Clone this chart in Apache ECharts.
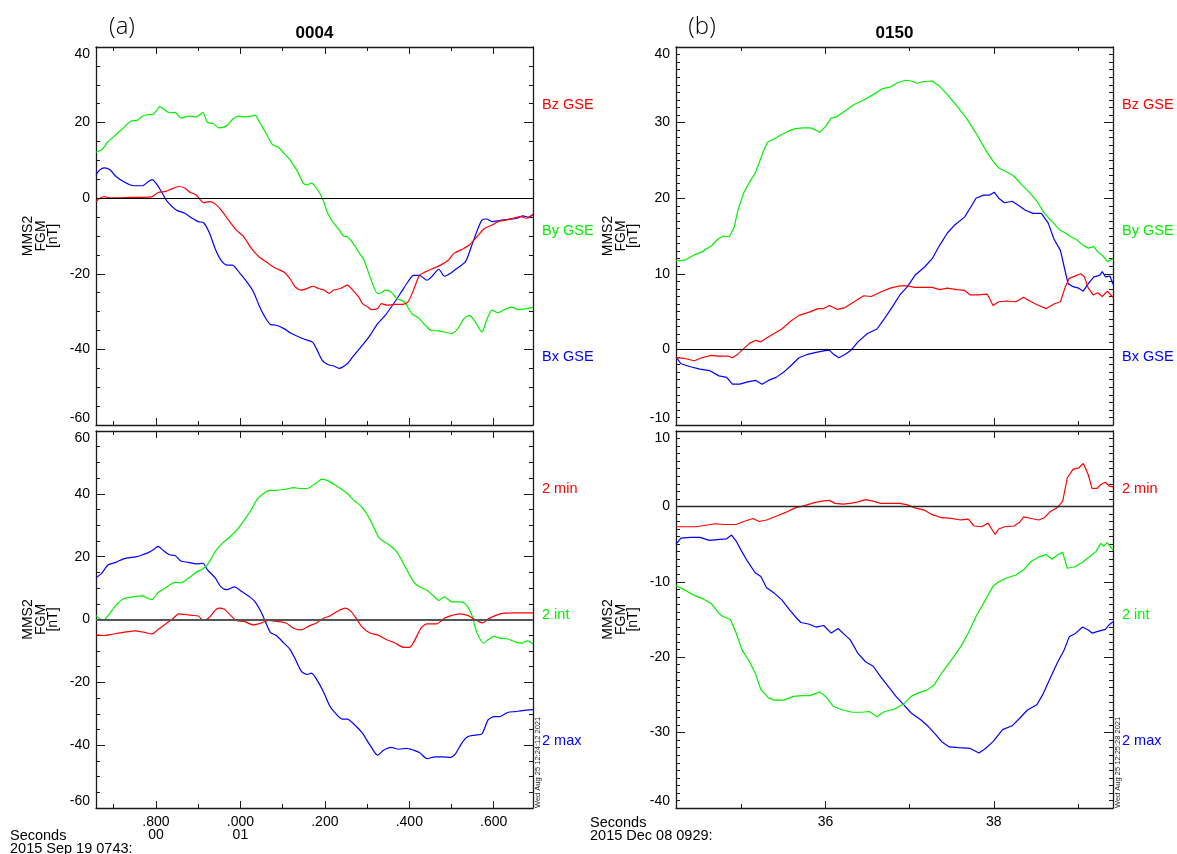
<!DOCTYPE html>
<html>
<head>
<meta charset="utf-8">
<script src="https://cdn.jsdelivr.net/npm/echarts@6.0.0/dist/echarts.min.js"></script>
<style>
  html, body { margin: 0; padding: 0; background: #ffffff; }
  #chart { width: 1177px; height: 854px; }
</style>
</head>
<body>
<div id="chart"></div>
<script>
// ---- MMS2 FGM, 2015 Sep 19 07:43 (interval 0004): time [s after 07:43:00], field [nT]
const bxA = [[0.658,6.2],[0.667,7.5],[0.678,8],[0.691,7.5],[0.705,5.8],[0.723,4.4],[0.746,3.3],[0.768,3.3],[0.782,4.4],[0.791,4.9],[0.803,3.5],[0.814,1.5],[0.827,-0.9],[0.848,-3.1],[0.868,-4],[0.886,-5.3],[0.900,-6.2],[0.913,-6.5],[0.927,-9.3],[0.940,-13.3],[0.954,-16.4],[0.968,-17.7],[0.981,-17.7],[0.999,-19.9],[1.017,-22.4],[1.031,-24.8],[1.044,-28.3],[1.058,-31.4],[1.071,-33.4],[1.085,-33.6],[1.103,-34.5],[1.121,-35.8],[1.149,-37.2],[1.171,-38.1],[1.180,-39.8],[1.194,-42.9],[1.207,-44],[1.221,-44.4],[1.234,-45],[1.253,-43.8],[1.266,-42],[1.289,-38.9],[1.307,-36.3],[1.325,-33.2],[1.343,-31],[1.366,-27.4],[1.384,-24.3],[1.397,-22.1],[1.410,-20.4],[1.424,-20.4],[1.442,-21.7],[1.456,-20.4],[1.470,-18.8],[1.483,-20.6],[1.497,-19.9],[1.510,-18.8],[1.533,-16.8],[1.547,-12.8],[1.560,-8.8],[1.572,-5.8],[1.583,-5.5],[1.596,-6.2],[1.614,-5.9],[1.637,-5.6],[1.655,-5.3],[1.669,-4.7],[1.682,-5],[1.693,-4.2]];
const byA = [[0.658,12.2],[0.671,12.8],[0.687,15],[0.705,16.8],[0.723,18.6],[0.741,20.4],[0.755,20.6],[0.768,21.7],[0.782,22.1],[0.791,22.1],[0.800,23],[0.809,24.2],[0.818,23.6],[0.832,22.6],[0.845,22.7],[0.859,21.2],[0.877,21.7],[0.895,21.5],[0.904,22.1],[0.911,22.7],[0.922,20.1],[0.936,19.7],[0.949,18.6],[0.968,19.2],[0.981,20.8],[0.995,21.7],[1.013,21.5],[1.035,21.9],[1.044,20.4],[1.058,17.7],[1.076,14.2],[1.090,13.5],[1.103,11.9],[1.117,10.2],[1.135,7.1],[1.149,4],[1.158,3.5],[1.168,4],[1.180,2.7],[1.194,0],[1.207,-4],[1.221,-6.6],[1.234,-8.4],[1.244,-10],[1.253,-10.2],[1.264,-11.5],[1.280,-14.2],[1.293,-16.4],[1.307,-20.8],[1.325,-25.2],[1.334,-25],[1.343,-24.3],[1.357,-24.8],[1.370,-26.5],[1.388,-27.4],[1.406,-30.5],[1.424,-31.9],[1.438,-33.6],[1.452,-35],[1.470,-35.1],[1.483,-35.4],[1.500,-35.8],[1.515,-34.5],[1.529,-31.9],[1.542,-31],[1.556,-32.7],[1.572,-35.4],[1.583,-32.3],[1.596,-29.6],[1.610,-30.3],[1.624,-29.5],[1.642,-28.8],[1.660,-29.5],[1.678,-29.2],[1.693,-28.9]];
const bzA = [[0.658,-0.9],[0.667,0],[0.678,0.4],[0.691,0.1],[0.714,0.1],[0.741,0.2],[0.768,0.2],[0.791,0.4],[0.805,1.5],[0.823,1.8],[0.836,2.4],[0.854,3.1],[0.868,2.7],[0.882,1.5],[0.895,0.9],[0.904,-0.3],[0.913,-1.2],[0.927,-0.9],[0.940,-1.5],[0.954,-3.1],[0.972,-5.8],[0.990,-8.4],[1.008,-10.2],[1.026,-13.3],[1.044,-15.5],[1.067,-17.3],[1.085,-18.6],[1.103,-19.5],[1.117,-21.2],[1.130,-23.5],[1.144,-24.3],[1.158,-23.9],[1.171,-23.3],[1.185,-23.9],[1.198,-24.3],[1.210,-25.2],[1.221,-24.3],[1.237,-23.9],[1.253,-23.0],[1.266,-24.3],[1.280,-26.1],[1.289,-27.9],[1.302,-28.8],[1.311,-29.5],[1.325,-29.2],[1.334,-27.9],[1.348,-28.3],[1.366,-28.1],[1.384,-28.1],[1.397,-27.4],[1.410,-24.3],[1.424,-20.4],[1.438,-19.5],[1.456,-18.6],[1.474,-17.7],[1.492,-16.4],[1.506,-14.6],[1.529,-13.3],[1.542,-12.4],[1.560,-10.2],[1.578,-8.0],[1.596,-7.1],[1.610,-6.2],[1.628,-5.8],[1.646,-5.3],[1.664,-4.9],[1.678,-5.3],[1.693,-4.4]];

// minimum-variance frame components, same interval
const maxA = [[0.658,13.3],[0.671,14.7],[0.687,17.4],[0.705,18.2],[0.723,19.3],[0.741,19.8],[0.755,20],[0.768,20.6],[0.782,21.3],[0.794,22.2],[0.805,23.3],[0.818,21.9],[0.832,20.6],[0.845,20.4],[0.859,18.6],[0.877,18.2],[0.895,17.7],[0.911,17.9],[0.922,15.8],[0.940,13.3],[0.954,10.4],[0.968,9.5],[0.986,10.4],[1.004,8.8],[1.022,7.2],[1.035,5.6],[1.049,2.4],[1.058,-0.3],[1.071,-4.1],[1.085,-5.1],[1.103,-7.5],[1.117,-9.4],[1.130,-12.6],[1.144,-16.4],[1.158,-17.5],[1.168,-17.1],[1.185,-20.1],[1.198,-23.4],[1.212,-27.6],[1.225,-29.8],[1.241,-31.7],[1.253,-31.7],[1.271,-33.6],[1.289,-36.2],[1.307,-40],[1.325,-43.2],[1.339,-41.6],[1.357,-40.7],[1.375,-41.3],[1.393,-41],[1.410,-41.6],[1.424,-42.3],[1.442,-44.3],[1.461,-43.7],[1.479,-43.7],[1.497,-43.9],[1.510,-42.6],[1.524,-39.4],[1.538,-37.3],[1.556,-36.8],[1.572,-36.4],[1.587,-31.9],[1.601,-30.9],[1.614,-30.9],[1.633,-29.6],[1.651,-29.3],[1.669,-29],[1.693,-28.7]];
const intA = [[0.658,1.3],[0.667,0.2],[0.676,-0.1],[0.687,1.3],[0.705,4.5],[0.723,6.6],[0.746,7.2],[0.768,7.5],[0.782,6.6],[0.791,6.4],[0.805,8.6],[0.823,10.1],[0.845,11.8],[0.859,11.7],[0.877,13.1],[0.895,15],[0.913,16.3],[0.927,18.4],[0.940,21.6],[0.958,24.3],[0.977,26.5],[0.995,29.1],[1.013,32.4],[1.026,35],[1.040,38.3],[1.058,40.4],[1.071,41.1],[1.085,41.1],[1.108,41.5],[1.126,42],[1.139,41.7],[1.158,41.7],[1.176,43.1],[1.194,44.7],[1.207,44.2],[1.221,43.1],[1.234,42],[1.253,40.1],[1.271,37.7],[1.289,35.6],[1.307,31.8],[1.329,25.9],[1.352,23.8],[1.370,21.6],[1.388,17.4],[1.410,12],[1.424,10.4],[1.442,9.3],[1.456,7.7],[1.470,6.1],[1.483,7.2],[1.501,5.6],[1.520,5.6],[1.533,5],[1.547,1.8],[1.560,-4.1],[1.576,-7.5],[1.587,-6.4],[1.601,-5.4],[1.614,-5.9],[1.633,-6.2],[1.651,-7.1],[1.666,-7.5],[1.680,-6.8],[1.693,-7.8]];
const minA = [[0.658,-4.9],[0.678,-5.1],[0.696,-4.7],[0.723,-4.1],[0.750,-3.6],[0.773,-4.1],[0.791,-4.6],[0.805,-3.2],[0.823,-1.4],[0.841,0.4],[0.854,1.8],[0.868,1.6],[0.886,1.3],[0.900,1.1],[0.913,-0.3],[0.927,0.7],[0.940,2.9],[0.949,3.6],[0.963,3.2],[0.977,1.3],[0.990,-0.3],[1.008,-0.6],[1.031,-1.7],[1.049,-1.1],[1.067,-0.3],[1.085,-0.6],[1.108,-1.1],[1.126,-2.8],[1.144,-3.3],[1.162,-2.1],[1.180,-1.1],[1.198,0.5],[1.212,1.1],[1.230,2.6],[1.248,3.6],[1.262,2.6],[1.275,0.2],[1.289,-2.5],[1.307,-4.3],[1.325,-4.9],[1.343,-6.2],[1.366,-7.5],[1.388,-8.9],[1.400,-8.9],[1.410,-7.3],[1.429,-2.5],[1.442,-1.4],[1.465,-1.4],[1.483,0.4],[1.501,1.3],[1.520,1.8],[1.538,1.3],[1.556,0],[1.574,-1.1],[1.587,0.2],[1.605,1.3],[1.624,2],[1.646,2.1],[1.669,2.1],[1.693,2.1]];

// ---- MMS2 FGM, 2015 Dec 08 09:29 (interval 0150): time [s after 09:29:00], field [nT]
const bxB = [[34.222,-1],[34.281,-1.9],[34.394,-2.3],[34.507,-2.6],[34.620,-2.8],[34.733,-3.5],[34.824,-3.7],[34.892,-4.6],[34.982,-4.6],[35.073,-4.3],[35.172,-4.1],[35.245,-4.6],[35.322,-4.1],[35.412,-3.7],[35.503,-3],[35.593,-2.1],[35.684,-1.1],[35.774,-0.7],[35.887,-0.4],[35.978,-0.2],[36.045,-0.1],[36.090,-0.6],[36.158,-1.1],[36.226,-0.7],[36.303,-0.1],[36.385,1],[36.498,2.1],[36.611,2.7],[36.702,4.1],[36.792,5.6],[36.883,7.2],[36.973,8.3],[37.063,9.8],[37.177,10.9],[37.267,12],[37.358,13.8],[37.448,15.4],[37.539,16.5],[37.652,17.5],[37.720,18.7],[37.788,20],[37.878,20.4],[37.946,20.4],[38.005,20.8],[38.059,20],[38.127,19.4],[38.218,19.6],[38.286,19.1],[38.376,18.4],[38.467,18],[38.566,18],[38.647,16.7],[38.715,14.6],[38.792,13.1],[38.837,10.9],[38.883,8.7],[38.942,8.3],[39.009,8.1],[39.064,7.7],[39.123,8.7],[39.190,9.6],[39.258,9.8],[39.290,10.3],[39.326,9.6],[39.381,9.7],[39.417,8.6]];
const byB = [[34.222,11.7],[34.326,11.8],[34.439,12.5],[34.530,12.9],[34.643,13.7],[34.711,14.5],[34.779,15],[34.856,14.9],[34.914,16.2],[34.960,18.5],[35.027,20.7],[35.095,22.1],[35.163,23.3],[35.208,24.6],[35.254,26],[35.308,27.4],[35.367,27.7],[35.457,28.3],[35.548,28.8],[35.638,29.2],[35.729,29.3],[35.819,29.3],[35.887,29],[35.933,28.7],[36.000,29.5],[36.068,30.6],[36.136,30.8],[36.226,31.5],[36.340,32.4],[36.453,33],[36.566,33.7],[36.679,34.5],[36.769,34.7],[36.860,35.3],[36.950,35.6],[37.018,35.5],[37.086,35.2],[37.154,35.4],[37.267,35.5],[37.358,34.8],[37.448,33.7],[37.561,32.2],[37.674,30.6],[37.788,28.6],[37.901,26.4],[37.991,24.9],[38.059,24],[38.150,23.5],[38.240,22.9],[38.331,21.8],[38.421,20.8],[38.512,19.6],[38.602,18],[38.693,16.9],[38.783,15.8],[38.851,15.4],[38.919,14.9],[38.987,14.5],[39.055,13.8],[39.123,13.4],[39.190,13.6],[39.236,12.9],[39.304,12.3],[39.349,11.6],[39.381,11.8],[39.417,12]];
const bzB = [[34.222,-1.1],[34.326,-1.2],[34.439,-1.5],[34.530,-1.1],[34.643,-0.8],[34.733,-0.9],[34.846,-0.9],[34.892,-1.1],[34.960,-0.6],[35.027,0.1],[35.095,0.8],[35.172,1.2],[35.231,1],[35.299,1.5],[35.389,2.1],[35.480,2.7],[35.593,3.8],[35.684,4.5],[35.797,4.9],[35.910,5.4],[35.978,5.4],[36.045,5.8],[36.136,5.3],[36.226,5.5],[36.340,6.3],[36.453,7.1],[36.543,7],[36.656,7.6],[36.769,8.1],[36.883,8.4],[36.973,8.4],[37.063,8.2],[37.154,8.2],[37.267,8.2],[37.358,7.9],[37.448,8.1],[37.561,7.9],[37.652,7.8],[37.720,7.2],[37.810,7.2],[37.923,7.3],[37.991,5.8],[38.059,6.3],[38.150,6.4],[38.263,6.3],[38.354,6.9],[38.444,6.3],[38.534,5.8],[38.625,5.4],[38.715,6],[38.792,6.3],[38.851,8.3],[38.896,9.4],[38.964,9.7],[39.032,10],[39.077,9.6],[39.123,8.1],[39.182,7.2],[39.236,7.5],[39.290,7],[39.349,7.7],[39.417,6.9]];

const maxB = [[34.222,-5],[34.281,-4.2],[34.394,-4.1],[34.507,-4.1],[34.620,-4.5],[34.711,-4.4],[34.824,-4.3],[34.883,-3.8],[34.937,-4.6],[35.005,-6],[35.073,-7.3],[35.163,-8.8],[35.231,-9.3],[35.299,-10.8],[35.389,-11.5],[35.480,-12.4],[35.570,-13.7],[35.638,-14.6],[35.706,-15.4],[35.797,-15.6],[35.887,-16],[35.978,-15.8],[36.068,-16.8],[36.149,-16.2],[36.226,-17],[36.294,-17.7],[36.385,-19.5],[36.475,-20.6],[36.566,-21.2],[36.656,-22.6],[36.747,-23.9],[36.837,-25.2],[36.928,-26.3],[37.018,-27.4],[37.131,-28.3],[37.222,-29.2],[37.312,-30.3],[37.380,-31.2],[37.471,-31.9],[37.584,-32],[37.720,-32.1],[37.824,-32.7],[37.901,-32.1],[37.991,-31.2],[38.104,-29.6],[38.218,-29.1],[38.308,-28.1],[38.399,-27],[38.512,-26.3],[38.580,-25],[38.670,-22.8],[38.761,-20.6],[38.838,-19],[38.896,-17.3],[38.964,-16.9],[39.055,-16],[39.123,-16.4],[39.168,-16.8],[39.258,-16.5],[39.326,-16.3],[39.371,-15.7],[39.417,-15.3]];
const intB = [[34.222,-10.5],[34.326,-11.1],[34.439,-11.8],[34.552,-12.3],[34.643,-12.9],[34.733,-14.2],[34.779,-14.6],[34.869,-15],[34.937,-16.8],[35.005,-19],[35.095,-20.6],[35.163,-22.1],[35.231,-24.3],[35.322,-25.4],[35.389,-25.7],[35.503,-25.7],[35.616,-25.2],[35.729,-25.1],[35.819,-25.1],[35.933,-24.6],[36.000,-25.2],[36.090,-26.5],[36.204,-27],[36.317,-27.3],[36.430,-27.3],[36.521,-27.2],[36.611,-27.9],[36.702,-27.2],[36.815,-26.9],[36.928,-26.2],[37.018,-25.2],[37.109,-24.7],[37.199,-24.4],[37.290,-23.7],[37.380,-22.1],[37.494,-20.4],[37.607,-18.6],[37.697,-16.8],[37.788,-14.6],[37.901,-12.4],[37.991,-10.6],[38.059,-10],[38.150,-9.5],[38.263,-9.1],[38.354,-8.4],[38.444,-7.3],[38.534,-6.7],[38.625,-6.4],[38.693,-7],[38.761,-6.4],[38.819,-6.1],[38.874,-8.2],[38.964,-8],[39.055,-7.4],[39.145,-6.6],[39.213,-6],[39.272,-4.9],[39.304,-5.3],[39.349,-4.8],[39.417,-5.8]];
const minB = [[34.222,-2.7],[34.349,-2.7],[34.462,-2.7],[34.575,-2.5],[34.688,-2.3],[34.801,-2.4],[34.937,-2.4],[35.027,-2],[35.141,-1.6],[35.208,-2],[35.299,-1.8],[35.412,-1.3],[35.525,-0.8],[35.638,-0.2],[35.751,0.1],[35.865,0.5],[35.955,0.7],[36.045,0.8],[36.113,0.4],[36.204,0.3],[36.294,0.4],[36.385,0.6],[36.475,0.9],[36.566,0.7],[36.656,0.4],[36.769,0.4],[36.883,0.4],[36.973,0.2],[37.063,-0.2],[37.177,-0.5],[37.267,-1.1],[37.380,-1.5],[37.494,-1.6],[37.607,-1.8],[37.697,-1.7],[37.765,-2.6],[37.856,-2.7],[37.933,-2.2],[37.969,-2.9],[38.014,-3.7],[38.059,-3],[38.127,-2.7],[38.240,-2.6],[38.308,-2.1],[38.354,-1.4],[38.444,-1.6],[38.534,-1.8],[38.602,-1.5],[38.670,-0.7],[38.761,-0.1],[38.819,0.7],[38.874,3.8],[38.942,4.9],[39.009,5.1],[39.064,5.7],[39.123,4.2],[39.168,2.4],[39.227,2.4],[39.272,2.9],[39.326,3.2],[39.371,2.7],[39.417,2.6]];

// ---- axis ranges and tick labels
const xRangeA = [0.658, 1.693];
const xRangeB = [34.222, 39.417];
const xTicksA = [0.8, 1.0, 1.2, 1.4, 1.6];
const xTickLabelsA = ['.800\n00', '.000\n01', '.200', '.400', '.600'];
const xTicksB = [36, 38];
const xTickLabelsB = ['36', '38'];
const yRangeTopA = [-60, 40], yRangeBotA = [-60, 60];
const yRangeTopB = [-10, 40], yRangeBotB = [-40, 10];

const titles = ['0004', '0150'];
const panelTags = ['(a)', '(b)'];
const gseNames = ['Bz GSE', 'By GSE', 'Bx GSE'];
const mvaNames = ['2 min', '2 int', '2 max'];
const yName = 'MMS2\nFGM\n[nT]';
const timeUnits = ['Seconds\n2015 Sep 19 0743:', 'Seconds\n2015 Dec 08 0929:'];
const stamps = ['Wed Aug 25 12:24:12 2021', 'Wed Aug 25 12:25:28 2021'];

const FONT = '"Liberation Sans", Arial, Helvetica, sans-serif';
const RED = '#ff0000', GREEN = '#00f000', BLUE = '#0000ff';
const AXIS = '#1a1a1a';

// four plot boxes
const boxes = [
  { left: 96,  top: 47,  width: 437, height: 378 },  // a, GSE
  { left: 96,  top: 431, width: 437, height: 377 },  // a, MVA
  { left: 676, top: 47,  width: 437, height: 378 },  // b, GSE
  { left: 676, top: 431, width: 437, height: 377 }   // b, MVA
];

const panels = [
  { box: boxes[0], xr: xRangeA, xStep: 0.2, xMinor: 2, xSplit: 5, ticks: xTicksA, labels: xTickLabelsA, showX: false,
    yr: yRangeTopA, yStep: 20, yMinor: 4, smooth: 0.25, zero: { color: '#000', width: 1.2 },
    lines: [[bxA, BLUE], [byA, GREEN], [bzA, RED]] },
  { box: boxes[1], xr: xRangeA, xStep: 0.2, xMinor: 2, xSplit: 5, ticks: xTicksA, labels: xTickLabelsA, showX: true,
    yr: yRangeBotA, yStep: 20, yMinor: 4, smooth: 0.25, zero: { color: '#555', width: 2.2 },
    lines: [[maxA, BLUE], [intA, GREEN], [minA, RED]] },
  { box: boxes[2], xr: xRangeB, xStep: 2, xMinor: 2, xSplit: 3, ticks: xTicksB, labels: xTickLabelsB, showX: false,
    yr: yRangeTopB, yStep: 10, yMinor: 10, smooth: false, zero: { color: '#000', width: 1.2 },
    lines: [[bxB, BLUE], [byB, GREEN], [bzB, RED]] },
  { box: boxes[3], xr: xRangeB, xStep: 2, xMinor: 2, xSplit: 3, ticks: xTicksB, labels: xTickLabelsB, showX: true,
    yr: yRangeBotB, yStep: 10, yMinor: 10, smooth: false, zero: { color: '#2a2a2a', width: 1.4 },
    lines: [[maxB, BLUE], [intB, GREEN], [minB, RED]] }
];

const grid = [], xAxis = [], yAxis = [], series = [];

panels.forEach((p, gi) => {
  grid.push({ left: p.box.left, top: p.box.top, width: p.box.width, height: p.box.height, containLabel: false });

  const xBase = {
    type: 'value', gridIndex: gi, min: p.xr[0], max: p.xr[1],
    minInterval: p.xStep, maxInterval: p.xStep, splitNumber: p.xSplit,
    axisLine: { show: true, onZero: false, lineStyle: { color: AXIS, width: 1.3 } },
    axisTick: { show: true, inside: true, length: 7, lineStyle: { color: AXIS, width: 1 } },
    minorTick: { show: true, splitNumber: p.xMinor, length: 4, lineStyle: { color: AXIS, width: 1 } },
    splitLine: { show: false }, minorSplitLine: { show: false }
  };
  const tickLabel = (v) => {
    const i = p.ticks.findIndex(t => Math.abs(t - v) < 1e-6);
    return i >= 0 ? p.labels[i] : '';
  };
  xAxis.push(Object.assign({}, xBase, {
    position: 'bottom',
    axisLabel: p.showX ? {
      show: true, formatter: tickLabel, showMinLabel: false, showMaxLabel: false,
      color: '#000', fontFamily: FONT, fontSize: 14, lineHeight: 13, margin: 8
    } : { show: false }
  }));
  xAxis.push(Object.assign({}, xBase, { position: 'top', axisLabel: { show: false } }));

  const yBase = {
    type: 'value', gridIndex: gi, min: p.yr[0], max: p.yr[1], interval: p.yStep,
    axisLine: { show: true, onZero: false, lineStyle: { color: AXIS, width: 1.3 } },
    axisTick: { show: true, inside: true, length: 9, lineStyle: { color: AXIS, width: 1 } },
    minorTick: { show: true, splitNumber: p.yMinor, length: 4, lineStyle: { color: AXIS, width: 1 } },
    splitLine: { show: false }, minorSplitLine: { show: false }
  };
  yAxis.push(Object.assign({}, yBase, {
    position: 'left',
    axisLabel: {
      show: true, color: '#000', fontFamily: FONT, fontSize: 14, margin: 6,
      verticalAlignMinLabel: 'bottom', verticalAlignMaxLabel: 'top'
    }
  }));
  yAxis.push(Object.assign({}, yBase, { position: 'right', axisLabel: { show: false } }));

  p.lines.forEach(([data, color], k) => {
    const s = {
      type: 'line', data, xAxisIndex: gi * 2, yAxisIndex: gi * 2,
      symbol: 'none', showSymbol: false, clip: true, z: 2 + k, smooth: p.smooth,
      lineStyle: { color, width: 1.2 }, itemStyle: { color }
    };
    if (k === 0) {
      s.markLine = {
        silent: true, symbol: ['none', 'none'], animation: false,
        label: { show: false },
        lineStyle: { color: p.zero.color, width: p.zero.width, type: 'solid' },
        data: [{ yAxis: 0 }]
      };
    }
    series.push(s);
  });
});

// free text: tags, titles, component names, axis names, time units, stamps
const graphic = [];
const txt = (x, y, text, style, rotation) => graphic.push({
  type: 'text', x, y, rotation: rotation || 0, silent: true,
  style: Object.assign({ text, fontFamily: FONT, fill: '#000' }, style)
});
const leftPos = [96, 676], rightPos = [533, 1113];
[0, 1].forEach(c => {
  const cx = (leftPos[c] + rightPos[c]) / 2;
  txt(leftPos[c] + 26, 27, panelTags[c], { fontFamily: '"Open Sans", "Noto Sans", sans-serif', fontWeight: 300, fontSize: 24, align: 'center', verticalAlign: 'middle' });
  txt(cx, 33, titles[c], { fontSize: 17, fontWeight: 'bold', align: 'center', verticalAlign: 'middle' });
  const lx = rightPos[c] + 9;
  [RED, GREEN, BLUE].forEach((col, k) => {
    txt(lx, [105, 231, 357][k], gseNames[k], { fontSize: 14.5, fill: col, align: 'left', verticalAlign: 'middle' });
    txt(lx, [489, 615, 741][k], mvaNames[k], { fontSize: 14.5, fill: col, align: 'left', verticalAlign: 'middle' });
  });
  [236, 619.5].forEach(cy => {
    txt(leftPos[c] - 55, cy, yName, { fontSize: 14, lineHeight: 12.5, align: 'center', verticalAlign: 'middle' }, Math.PI / 2);
  });
  txt(leftPos[c] - 86, c === 0 ? 829 : 816, timeUnits[c], { fontSize: 14.5, lineHeight: 13, align: 'left', verticalAlign: 'top' });
  txt(rightPos[c] + 5, 808, stamps[c], { fontSize: 7.5, align: 'left', verticalAlign: 'middle', fill: '#222' }, Math.PI / 2);
});

const chart = echarts.init(document.getElementById('chart'), null, { renderer: 'canvas' });
chart.setOption({
  animation: false,
  backgroundColor: '#ffffff',
  grid, xAxis, yAxis, series, graphic
});
</script>
</body>
</html>
